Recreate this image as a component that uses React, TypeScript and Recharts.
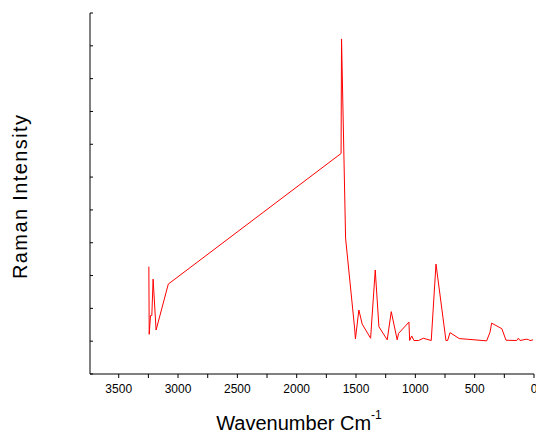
import React from "react";
import { LineChart, Line, XAxis, YAxis, Label } from "recharts";

const wavenumbers = [
  3246, 3243, 3232, 3221, 3210, 3185, 3082, 1626, 1622, 1588, 1512, 1505, 1476, 1448, 1377, 1338,
  1307, 1237, 1203, 1153, 1141, 1054, 1048, 1031, 1012, 972, 933, 866, 826, 742, 728, 708, 630,
  399, 371, 357, 271, 236, 146, 132, 118, 65, 48, 34, 8,
];
const intensities = [
  3.27, 1.21, 1.78, 1.78, 2.89, 1.34, 2.74, 6.72, 10.21, 4.14, 1.4, 1.07, 1.95, 1.52, 1.09, 3.17,
  1.44, 1.04, 1.9, 1.04, 1.24, 1.58, 1.02, 1.16, 1.02, 1.02, 1.09, 1.02, 3.35, 1.02, 1.02, 1.26,
  1.08, 1.01, 1.27, 1.55, 1.38, 1.03, 1.02, 1.09, 1.02, 1.06, 1.05, 1.02, 1.04,
];
const xTicks = [0, 250, 500, 750, 1000, 1250, 1500, 1750, 2000, 2250, 2500, 2750, 3000, 3250, 3500];
const xLabelTicks = [0, 500, 1000, 1500, 2000, 2500, 3000, 3500];
const yTicks = [0, 1, 2, 3, 4, 5, 6, 7, 8, 9, 10, 11];

const data = wavenumbers.map((w, i) => ({ w, v: intensities[i] }));

const FONT = "'Liberation Sans', Arial, sans-serif";

const YTick = (props: any) => {
  const { x, y } = props;
  return <line x1={x} x2={x + 3} y1={y} y2={y} stroke="#000" strokeWidth={1} />;
};

const XTitle = () => {
  return (
    <text x={299} y={430} textAnchor="middle" fontFamily={FONT} fontSize={20} fill="#000">
      Wavenumber Cm
      <tspan fontSize={12} dy={-11}>-1</tspan>
    </text>
  );
};

export default function App() {
  return (
    <div style={{ position: "absolute", left: 0, top: 0, width: 536, height: 436, background: "#fff" }}>
      <LineChart
        width={536}
        height={436}
        data={data}
        margin={{ top: 13, right: 2, bottom: 0, left: 0 }}
      >
        <XAxis
          dataKey="w"
          type="number"
          domain={[0, 3742]}
          reversed
          ticks={xTicks}
          interval={0}
          allowDataOverflow
          tickSize={4}
          tickMargin={6}
          stroke="#000"
          tick={{ fill: "#000", fontSize: 12, fontFamily: FONT }}
          tickFormatter={(v: number) => (xLabelTicks.includes(v) ? String(v) : "")}
          height={62}
        >
          <Label content={<XTitle />} />
        </XAxis>
        <YAxis
          type="number"
          domain={[0, 11]}
          ticks={yTicks}
          interval={0}
          width={90}
          tickSize={0}
          tickMargin={0}
          tickLine={false}
          stroke="#000"
          tick={<YTick />}
        />
        <Line
          type="linear"
          dataKey="v"
          stroke="#ff0000"
          strokeWidth={1}
          dot={false}
          isAnimationActive={false}
        />
        <text
          x={27}
          y={197}
          transform="rotate(-90 27 197)"
          textAnchor="middle"
          fontFamily={FONT}
          fontSize={20}
          textLength={164}
          lengthAdjust="spacing"
          fill="#000"
        >
          Raman Intensity
        </text>
      </LineChart>
    </div>
  );
}
